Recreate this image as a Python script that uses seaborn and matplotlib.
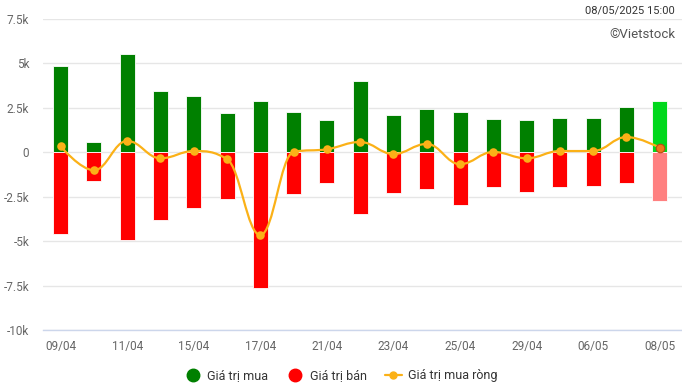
import matplotlib
matplotlib.use("Agg")
import matplotlib.pyplot as plt
import numpy as np
import pandas as pd
import seaborn as sns
from matplotlib.lines import Line2D
from matplotlib.patches import PathPatch
from matplotlib.path import Path

dates = ["09/04", "10/04", "11/04", "14/04", "15/04", "16/04", "17/04", "18/04",
         "21/04", "22/04", "23/04", "24/04", "25/04", "28/04", "29/04", "05/05",
         "06/05", "07/05", "08/05"]
buy_values = [4850, 580, 5520, 3440, 3150, 2190, 2880, 2250, 1800, 3990, 2080,
              2420, 2250, 1850, 1800, 1910, 1910, 2530, 2870]
sell_values = [-4590, -1610, -4930, -3800, -3130, -2620, -7620, -2340, -1730,
               -3470, -2290, -2060, -2960, -1950, -2230, -1950, -1890, -1730, -2740]
net_values = [340, -1010, 640, -340, 70, -390, -4660, 20, 170, 580, -100, 470,
              -670, 20, -340, 70, 70, 860, 260]
tick_dates = ["09/04", "11/04", "15/04", "17/04", "21/04", "23/04", "25/04",
              "29/04", "06/05", "08/05"]
y_ticks = [-10000, -7500, -5000, -2500, 0, 2500, 5000, 7500]
y_tick_labels = ["-10k", "-7.5k", "-5k", "-2.5k", "0", "2.5k", "5k", "7.5k"]

GREEN = "#008000"
GREEN_LAST = "#00d81c"
RED = "#ff0000"
RED_LAST = "#ff8080"
ORANGE = "#fbb117"


def spline_path(xs, ys, smoothing=1.5):
    # highcharts-like spline: control points at 1/(smoothing+1) of each segment
    n = len(xs)
    denom = smoothing + 1
    left = [(x, y) for x, y in zip(xs, ys)]
    right = [(x, y) for x, y in zip(xs, ys)]
    for i in range(1, n - 1):
        x, y = xs[i], ys[i]
        lx = (smoothing * x + xs[i - 1]) / denom
        ly = (smoothing * y + ys[i - 1]) / denom
        rx = (smoothing * x + xs[i + 1]) / denom
        ry = (smoothing * y + ys[i + 1]) / denom
        corr = (ry - ly) * (rx - x) / (rx - lx) + y - ry
        ly += corr
        ry += corr
        if ly > max(ys[i - 1], y):
            ly = max(ys[i - 1], y)
            ry = 2 * y - ly
        elif ly < min(ys[i - 1], y):
            ly = min(ys[i - 1], y)
            ry = 2 * y - ly
        if ry > max(ys[i + 1], y):
            ry = max(ys[i + 1], y)
            ly = 2 * y - ry
        elif ry < min(ys[i + 1], y):
            ry = min(ys[i + 1], y)
            ly = 2 * y - ry
        left[i] = (lx, ly)
        right[i] = (rx, ry)
    verts = [(xs[0], ys[0])]
    codes = [Path.MOVETO]
    for i in range(1, n):
        verts += [right[i - 1], left[i], (xs[i], ys[i])]
        codes += [Path.CURVE4] * 3
    return Path(verts, codes)


df = pd.DataFrame({
    "pos": np.arange(len(dates)),
    "date": dates,
    "buy": buy_values,
    "sell": sell_values,
    "net": net_values,
})

sns.set_theme(style="white")
plt.rcParams["font.family"] = ["Roboto", "DejaVu Sans"]

fig = plt.figure(figsize=(6.82, 3.89), dpi=100)
ax = fig.add_axes([43 / 682, 1 - 330 / 389, 1 - 43 / 682, (330 - 19) / 389])

sns.barplot(data=df, x="pos", y="buy", native_scale=True, width=0.45,
            color=GREEN, saturation=1, edgecolor="white", linewidth=0.6,
            ax=ax, zorder=2)
sns.barplot(data=df, x="pos", y="sell", native_scale=True, width=0.45,
            color=RED, saturation=1, edgecolor="white", linewidth=0.6,
            ax=ax, zorder=2)
n = len(dates)
ax.patches[n - 1].set_facecolor(GREEN_LAST)
ax.patches[2 * n - 1].set_facecolor(RED_LAST)

ax.add_patch(PathPatch(spline_path(df["pos"].tolist(), df["net"].tolist()),
                       facecolor="none", edgecolor=ORANGE, lw=1.6, zorder=4))
sns.scatterplot(data=df.iloc[:-1], x="pos", y="net", color=ORANGE, s=38,
                linewidth=0, ax=ax, zorder=5)
sns.scatterplot(data=df.iloc[-1:], x="pos", y="net", color="#f07818", s=38,
                edgecolor="#b84a10", linewidth=0.8, ax=ax, zorder=6)

ax.set_xlim(-0.53, n - 1 + 0.67)
ax.set_ylim(-10000, 7500)
ax.set_yticks(y_ticks)
ax.set_yticklabels(y_tick_labels)
ax.set_xticks([dates.index(d) for d in tick_dates])
ax.set_xticklabels(tick_dates)
ax.tick_params(axis="both", length=0, labelsize=8.5, colors="#666666")
ax.tick_params(axis="x", pad=7)
ax.tick_params(axis="y", pad=10)
ax.set_xlabel("")
ax.set_ylabel("")
ax.grid(axis="y", color="#e6e6e6", lw=1, zorder=0)
ax.set_axisbelow(True)
for side in ["top", "right", "left"]:
    ax.spines[side].set_visible(False)
ax.spines["bottom"].set_color("#ccd6eb")
ax.spines["bottom"].set_linewidth(1)

fig.text(675 / 682, 1 - 10 / 389, "08/05/2025 15:00", ha="right", va="center",
         fontsize=8, color="#333333")
fig.text(675 / 682, 1 - 34 / 389, "©Vietstock", ha="right", va="center",
         fontsize=9.5, color="#555555")

handles = [
    Line2D([], [], marker="o", linestyle="none", color=GREEN, markersize=9),
    Line2D([], [], marker="o", linestyle="none", color=RED, markersize=9),
    Line2D([], [], marker="o", linestyle="-", color=ORANGE, markersize=5, lw=1.6),
]
fig.legend(handles, ["Giá trị mua", "Giá trị bán", "Giá trị mua ròng"],
           loc="center", bbox_to_anchor=(0.5, 1 - 376 / 389), ncol=3,
           frameon=False, fontsize=9, labelcolor="#333333", handlelength=1.3,
           handletextpad=0.5, columnspacing=1.5)

fig.savefig("out.png", dpi=100)
